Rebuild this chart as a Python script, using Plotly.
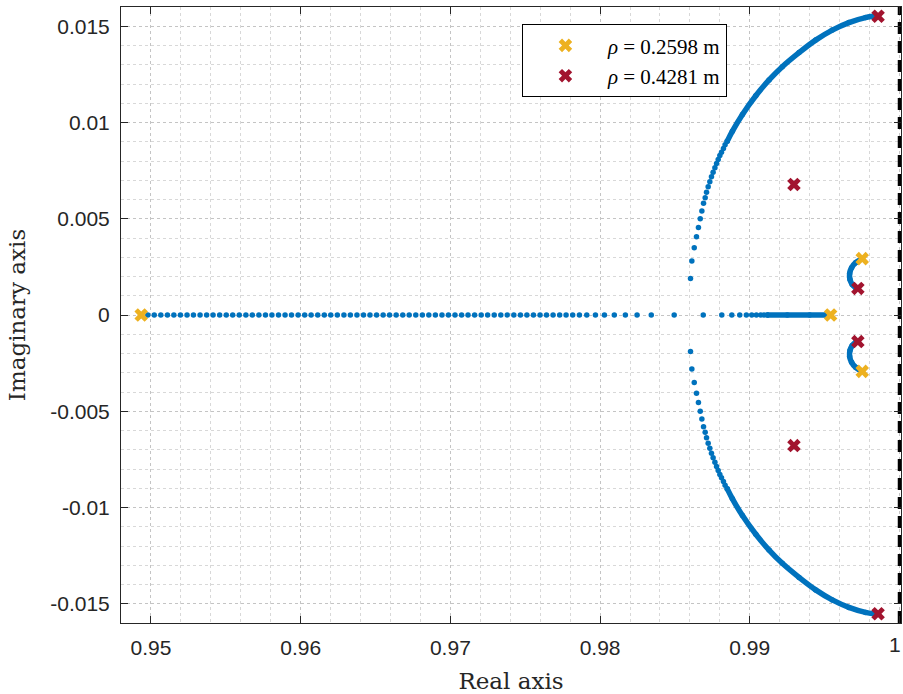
import plotly.graph_objects as go

# ---------------- data ----------------
# left real-axis branch (sparse dots), real parts
left_real = [0.94935, 0.94979, 0.95022, 0.95066, 0.95110, 0.95153, 0.95197, 0.95241, 0.95284,
             0.95328, 0.95372, 0.95415, 0.95459, 0.95503, 0.95546, 0.95590, 0.95634, 0.95677,
             0.95721, 0.95765, 0.95808, 0.95852, 0.95896, 0.95939, 0.95983, 0.96027, 0.96070,
             0.96114, 0.96158, 0.96201, 0.96245, 0.96289, 0.96332, 0.96376, 0.96420, 0.96463,
             0.96507, 0.96551, 0.96594, 0.96638, 0.96682, 0.96725, 0.96769, 0.96813, 0.96856,
             0.96900, 0.96944, 0.96987, 0.97031, 0.97075, 0.97118, 0.97162, 0.97206, 0.97249,
             0.97293, 0.97337, 0.97380, 0.97424, 0.97468, 0.97511, 0.97555, 0.97599, 0.97642,
             0.97686, 0.97730, 0.97773, 0.97817, 0.97862, 0.97911, 0.97969, 0.98029, 0.98095,
             0.98169, 0.98247, 0.98342, 0.98495]
left_imag = [0.0] * len(left_real)

# right real-axis branch: sparse dots, then a dense run
right_real_sparse = [0.98689, 0.98813, 0.98880, 0.98933, 0.98977, 0.99013, 0.99044, 0.99073,
                     0.99095, 0.99117]
right_imag_sparse = [0.0] * len(right_real_sparse)
right_real_dense = [0.99117, 0.99250, 0.99400, 0.99530]
right_imag_dense = [0.0, 0.0, 0.0, 0.0]

# upper complex branch: sparse dots
up_real_sparse = [0.98604, 0.98613, 0.98629, 0.98644, 0.98657, 0.98669, 0.98680, 0.98691,
                  0.98702, 0.98711, 0.98722, 0.98733, 0.98744, 0.98755, 0.98767, 0.98778,
                  0.98789, 0.98800, 0.98811, 0.98824, 0.98835, 0.98849]
up_imag_sparse = [0.00189, 0.00280, 0.00350, 0.00407, 0.00454, 0.00500, 0.00540, 0.00580,
                  0.00609, 0.00638, 0.00666, 0.00692, 0.00718, 0.00742, 0.00765, 0.00787,
                  0.00808, 0.00829, 0.00846, 0.00865, 0.00884, 0.00902]
# upper complex branch: dense part
up_real_dense = [0.98849, 0.98884, 0.98951, 0.99040, 0.99129, 0.99217, 0.99329, 0.99440,
                 0.99551, 0.99662, 0.99773, 0.99857]
up_imag_dense = [0.00902, 0.00955, 0.01042, 0.01139, 0.01221, 0.01290, 0.01363, 0.01428,
                 0.01480, 0.01519, 0.01545, 0.01554]

# lower complex branch (conjugate)
lo_real_sparse = [0.98604, 0.98613, 0.98629, 0.98644, 0.98657, 0.98669, 0.98680, 0.98691,
                  0.98702, 0.98711, 0.98722, 0.98733, 0.98744, 0.98755, 0.98767, 0.98778,
                  0.98789, 0.98800, 0.98811, 0.98824, 0.98835, 0.98849]
lo_imag_sparse = [-0.00189, -0.00280, -0.00350, -0.00407, -0.00454, -0.00500, -0.00540, -0.00580,
                  -0.00609, -0.00638, -0.00666, -0.00692, -0.00718, -0.00742, -0.00765, -0.00787,
                  -0.00808, -0.00829, -0.00846, -0.00865, -0.00884, -0.00902]
lo_real_dense = [0.98849, 0.98884, 0.98951, 0.99040, 0.99129, 0.99217, 0.99329, 0.99440,
                 0.99551, 0.99662, 0.99773, 0.99857]
lo_imag_dense = [-0.00902, -0.00955, -0.01042, -0.01139, -0.01221, -0.01290, -0.01363, -0.01428,
                 -0.01480, -0.01519, -0.01545, -0.01554]

# small arcs near z = 0.997
sa_up_real = [0.99751, 0.99707, 0.99680, 0.99667, 0.99669, 0.99684, 0.99707, 0.99722]
sa_up_imag = [0.00293, 0.00272, 0.00246, 0.00216, 0.00185, 0.00159, 0.00142, 0.00138]
sa_lo_real = [0.99751, 0.99707, 0.99680, 0.99667, 0.99669, 0.99684, 0.99707, 0.99722]
sa_lo_imag = [-0.00293, -0.00272, -0.00246, -0.00216, -0.00185, -0.00159, -0.00142, -0.00138]

# closed-loop poles at the two radii
rho_a_label = "<i>ρ</i> = 0.2598 m"
rho_a_real = [0.94935, 0.99540, 0.99751, 0.99751]
rho_a_imag = [0.0, 0.0, 0.00293, -0.00293]
rho_b_label = "<i>ρ</i> = 0.4281 m"
rho_b_real = [0.99857, 0.99857, 0.99295, 0.99295, 0.99722, 0.99722]
rho_b_imag = [0.01552, -0.01552, 0.00678, -0.00678, 0.00138, -0.00138]

# unit circle reference (Re = 1)
ref_real = [1.0, 1.0]
ref_imag = [-0.016, 0.016]

x_ticks = [0.95, 0.96, 0.97, 0.98, 0.99, 1.0]
x_tick_text = ["0.95", "0.96", "0.97", "0.98", "0.99", ""]
x_last_label = "1"
y_ticks = [0.015, 0.01, 0.005, 0.0, -0.005, -0.01, -0.015]
y_tick_text = ["0.015", "0.01", "0.005", "0", "-0.005", "-0.01", "-0.015"]

# ---------------- styling ----------------
BLUE = "#0072BD"
YELLOW = "#EDB120"
RED = "#A2142F"
AX = "#262626"
SERIF_T = "DejaVu Serif, serif"
SERIF_L = "Liberation Serif, Times New Roman, serif"
SANS = "Liberation Sans, Arial, sans-serif"

fig = go.Figure()

dot = dict(color=BLUE, size=5.5)
for xs, ys in [(left_real, left_imag), (right_real_sparse, right_imag_sparse),
               (up_real_sparse, up_imag_sparse), (lo_real_sparse, lo_imag_sparse)]:
    fig.add_trace(go.Scatter(x=xs, y=ys, mode="markers", marker=dot,
                             showlegend=False, hoverinfo="skip"))

for xs, ys in [(right_real_dense, right_imag_dense), (up_real_dense, up_imag_dense),
               (lo_real_dense, lo_imag_dense), (sa_up_real, sa_up_imag),
               (sa_lo_real, sa_lo_imag)]:
    fig.add_trace(go.Scatter(x=xs, y=ys, mode="lines+markers",
                             line=dict(color=BLUE, width=5.5, shape="spline", smoothing=1.0),
                             marker=dict(color=BLUE, size=5.5),
                             showlegend=False, hoverinfo="skip"))

fig.add_trace(go.Scatter(x=ref_real, y=ref_imag, mode="lines",
                         line=dict(color="black", width=3.5, dash="12px,7px"),
                         showlegend=False, hoverinfo="skip"))

fig.add_trace(go.Scatter(x=rho_a_real, y=rho_a_imag, mode="markers", name=rho_a_label,
                         marker=dict(symbol="x", size=12, color=YELLOW, line=dict(width=0))))
fig.add_trace(go.Scatter(x=rho_b_real, y=rho_b_imag, mode="markers", name=rho_b_label,
                         marker=dict(symbol="x", size=12, color=RED, line=dict(width=0))))

grid_major = dict(showgrid=True, gridcolor="#c4c4c4", griddash="dot", gridwidth=1)

fig.update_xaxes(range=[0.948, 1.0001], tickvals=x_ticks, ticktext=x_tick_text,
                 ticks="inside", ticklen=7, tickcolor=AX, mirror="allticks",
                 showline=True, linecolor=AX, linewidth=1, zeroline=False,
                 automargin=False, ticklabelstandoff=6,
                 tickfont=dict(family=SANS, size=21, color=AX),
                 title=dict(text="Real axis", font=dict(family=SERIF_T, size=23, color=AX), standoff=15),
                 minor=dict(dtick=0.002, tick0=0.95, showgrid=True, gridcolor="#d8d8d8",
                            griddash="dot", gridwidth=1, ticks=""),
                 **grid_major)
fig.update_yaxes(range=[-0.016, 0.016], tickvals=y_ticks, ticktext=y_tick_text,
                 ticks="inside", ticklen=7, tickcolor=AX, mirror="allticks",
                 showline=True, linecolor=AX, linewidth=1, zeroline=False,
                 automargin=False, ticklabelstandoff=6,
                 tickfont=dict(family=SANS, size=21, color=AX),
                 title=dict(text="Imaginary axis", font=dict(family=SERIF_T, size=23, color=AX), standoff=18),
                 minor=dict(dtick=0.001, tick0=0.0, showgrid=True, gridcolor="#d8d8d8",
                            griddash="dot", gridwidth=1, ticks=""),
                 **grid_major)

# last x tick label, kept inside the page edge
fig.add_annotation(x=x_ticks[-1], xref="x", y=0, yref="paper", text=x_last_label,
                   showarrow=False, xanchor="right", yanchor="top", yshift=-8, xshift=3,
                   font=dict(family=SANS, size=21, color=AX))

fig.update_layout(
    width=903, height=694,
    margin=dict(l=121, r=2, t=7, b=71),
    plot_bgcolor="white", paper_bgcolor="white",
    legend=dict(x=0.514, y=0.972, xanchor="left", yanchor="top",
                bgcolor="white", bordercolor="black", borderwidth=1,
                font=dict(family=SERIF_L, size=21, color="black"),
                itemwidth=75, tracegroupgap=0),
)

fig.write_html("out.html")
